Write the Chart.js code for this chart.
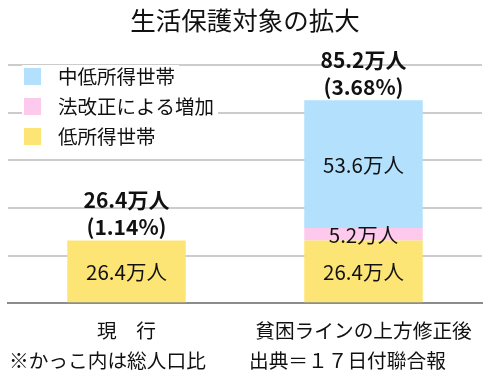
<!DOCTYPE html>
<html>
<head>
<meta charset="utf-8">
<script src="https://cdn.jsdelivr.net/npm/chart.js@4/dist/chart.umd.min.js"></script>
<style>
  html, body { margin: 0; padding: 0; background: #fff; }
  #wrap { width: 500px; height: 373px; }
</style>
</head>
<body>
<div id="wrap"><canvas id="chart" width="500" height="373"></canvas></div>
<script>
// data (万人)
const categories = ['現　行', '貧困ラインの上方修正後'];
const lowIncome = [26.4, 26.4];      // 低所得世帯
const lawChange = [0, 5.2];          // 法改正による増加
const midLowIncome = [0, 53.6];      // 中低所得世帯
const totals = [26.4, 85.2];
const shares = [1.14, 3.68];         // % of total population
const yTicks = [0, 20, 40, 60, 80, 100];

const FONT = "'Noto Sans CJK JP', 'Noto Sans', sans-serif";
const TEXT = '#111111';

const legendItems = [
    { label: '中低所得世帯', color: '#b3e0fc' },
    { label: '法改正による増加', color: '#fdc9ec' },
    { label: '低所得世帯', color: '#fde575' }
];

// titles, legend, footer and value labels
const decorPlugin = {
    id: 'decor',
    afterDatasetsDraw(chart) {
        const ctx = chart.ctx;
        const area = chart.chartArea;
        ctx.save();
        ctx.fillStyle = TEXT;
        ctx.textBaseline = 'middle';

        // value labels inside segments
        ctx.textAlign = 'center';
        ctx.font = '20.5px ' + FONT;
        chart.data.datasets.forEach((ds, i) => {
            const meta = chart.getDatasetMeta(i);
            meta.data.forEach((bar, j) => {
                const v = ds.data[j];
                if (!v) return;
                ctx.fillText(v.toFixed(1) + '万人', bar.x, (bar.y + bar.base) / 2 + 1);
            });
        });

        // totals above bars
        ctx.font = 'bold 21px ' + FONT;
        const yScale = chart.scales.y;
        const xScale = chart.scales.x;
        totals.forEach((t, j) => {
            const x = xScale.getPixelForValue(j);
            const top = yScale.getPixelForValue(t);
            ctx.fillText(t.toFixed(1) + '万人', x, top - 40);
            ctx.fillText('(' + shares[j].toFixed(2) + '%)', x, top - 13);
        });

        // legend in the upper left
        ctx.textAlign = 'left';
        ctx.font = '19.5px ' + FONT;
        legendItems.forEach((it, k) => {
            const y = 68 + k * 30;
            const w = ctx.measureText(it.label).width;
            ctx.fillStyle = '#fff';
            ctx.fillRect(22, y - 3, 40 + w, 23);
            ctx.fillStyle = it.color;
            ctx.fillRect(24, y, 17, 17);
            ctx.fillStyle = TEXT;
            ctx.fillText(it.label, 58, y + 9);
        });

        // title
        ctx.textAlign = 'center';
        ctx.font = '25.5px ' + FONT;
        ctx.fillText('生活保護対象の拡大', (area.left + area.right) / 2, 20);

        // footer
        ctx.textAlign = 'left';
        ctx.font = '19.7px ' + FONT;
        ctx.fillText('※かっこ内は総人口比', 9, 361);
        ctx.fillText('出典＝１７日付聯合報', 249, 361);
        ctx.restore();
    }
};

new Chart(document.getElementById('chart').getContext('2d'), {
    type: 'bar',
    data: {
        labels: categories,
        datasets: [
            { label: '低所得世帯', data: lowIncome, backgroundColor: '#fde575' },
            { label: '法改正による増加', data: lawChange, backgroundColor: '#fdc9ec' },
            { label: '中低所得世帯', data: midLowIncome, backgroundColor: '#b3e0fc' }
        ]
    },
    options: {
        responsive: false,
        animation: false,
        events: [],
        layout: { padding: { top: 65, left: 8, right: 18, bottom: 16 } },
        datasets: { bar: { barPercentage: 0.5, categoryPercentage: 1, borderWidth: 0 } },
        scales: {
            x: {
                stacked: true,
                grid: { display: false, drawTicks: false },
                border: { display: true, color: '#8c8c8c', width: 2 },
                ticks: { color: TEXT, font: { family: FONT, size: 19.7 }, padding: 15 }
            },
            y: {
                stacked: true,
                min: 0,
                max: 100,
                afterBuildTicks: axis => { axis.ticks = yTicks.map(v => ({ value: v })); },
                grid: { color: '#cccccc', lineWidth: 2, drawTicks: false },
                border: { display: false },
                ticks: { display: false }
            }
        },
        plugins: {
            legend: { display: false },
            title: { display: false },
            tooltip: { enabled: false }
        }
    },
    plugins: [decorPlugin]
});
</script>
</body>
</html>
